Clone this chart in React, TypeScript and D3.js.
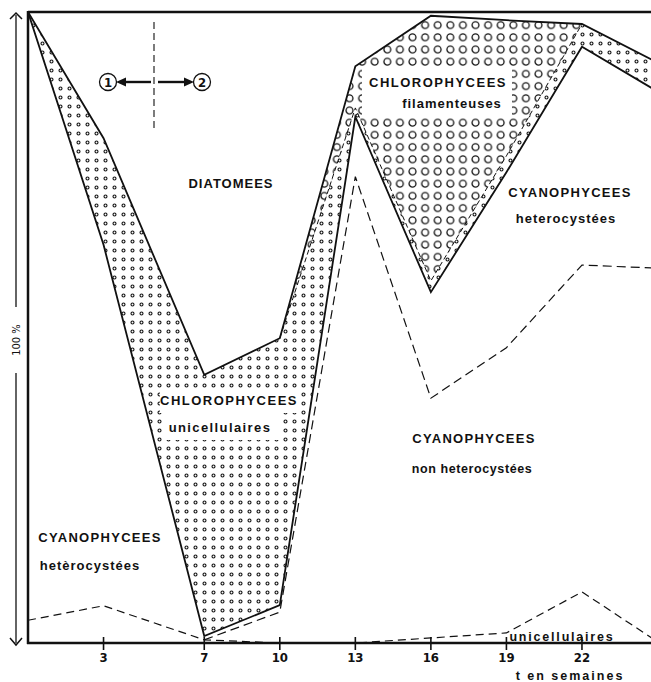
import React from "react";
import * as d3 from "d3";

// weeks sampled (last value = right border of the figure)
const weeks = [0, 3, 7, 10, 13, 16, 19, 22, 25];
const tickWeeks = [3, 7, 10, 13, 16, 19, 22];
// percentages of each group (stacked from bottom to top)
const cyanoUni = [3.6, 5.9, 0.5, 0, 0, 0.8, 1.6, 8.1, 0.2];
const cyanoNonHet = [0, 0, 0, 4.9, 73.9, 38.0, 45.2, 51.8, 59.2];
const cyanoHet = [96.4, 57.2, 0.6, 1.1, 9.5, 16.8, 27.8, 34.6, 28.0];
const chloroUni = [0, 16.9, 41.4, 42.3, 1.4, 1.8, 2.6, 3.6, 4.6];
const chloroFil = [0, 0, 0, 0, 6.6, 42.0, 21.5, 0, 0];
const diatom = [0, 20.0, 57.5, 51.7, 8.6, 0.6, 1.3, 1.9, 8.0];
const layerKeys = ["cyanoUni", "cyanoNonHet", "cyanoHet", "chloroUni", "chloroFil", "diatom"];
const layerValues = [cyanoUni, cyanoNonHet, cyanoHet, chloroUni, chloroFil, diatom];

const W = 651;
const H = 682;
const X0 = 28;
const XR = 651;
const YTOP = 12;
const YBOT = 643;

const SANS = "'Liberation Sans', Arial, Helvetica, sans-serif";
const NARROW = "'Liberation Sans Narrow', 'DejaVu Sans Condensed', 'Liberation Sans', sans-serif";

export default function App() {
  const x = d3.scaleLinear().domain([0, 25]).range([X0, X0 + 25 * 25.18]);
  const y = d3.scaleLinear().domain([0, 100]).range([YBOT, YTOP]);

  const table = weeks.map((w, i) => {
    const row: any = { week: w };
    layerKeys.forEach((k, j) => (row[k] = layerValues[j][i]));
    return row;
  });
  const stacked = d3.stack().keys(layerKeys)(table);
  const top = (k: string) => stacked[layerKeys.indexOf(k)];

  const area = d3
    .area<any>()
    .x((d) => x(d.data.week))
    .y0((d) => y(d[0]))
    .y1((d) => y(d[1]));
  const line = d3
    .line<any>()
    .x((d) => x(d.data.week))
    .y((d) => y(d[1]));

  const b1 = top("cyanoUni");
  const b2 = top("cyanoNonHet");
  const b3 = top("cyanoHet");
  const b4 = top("chloroUni");
  const b5 = top("chloroFil");

  const idx = (w: number) => weeks.indexOf(w);

  return (
    <svg
      width={W}
      height={H}
      style={{ position: "absolute", left: 0, top: 0, background: "#fff" }}
    >
      <defs>
        <clipPath id="plot">
          <rect x={X0} y={YTOP} width={XR - X0} height={YBOT - YTOP} />
        </clipPath>
        <pattern id="dots" patternUnits="userSpaceOnUse" width={9} height={9} x={2} y={3}>
          <circle cx={4.5} cy={4.5} r={1.5} fill="#fff" stroke="#111" strokeWidth={1.1} />
        </pattern>
        <pattern id="circles" patternUnits="userSpaceOnUse" width={12.6} height={12.2} x={3} y={19}>
          <circle cx={6.3} cy={6.1} r={3.4} fill="none" stroke="#111" strokeWidth={1.3} />
        </pattern>
      </defs>
      <rect x={0} y={0} width={W} height={H} fill="#fff" />

      <g clipPath="url(#plot)">
        <path d={area(top("chloroUni")) || ""} fill="url(#dots)" />
        <path d={area(top("chloroFil")) || ""} fill="url(#circles)" />

        {/* cleared zones behind labels */}
        <rect x={160} y={389} width={140} height={24} fill="#fff" />
        <rect x={163} y={412} width={120} height={28} fill="#fff" />
        <rect x={362} y={67} width={150} height={50} fill="#fff" />

        {/* boundaries */}
        <path d={line(b1) || ""} fill="none" stroke="#111" strokeWidth={1.2} strokeDasharray="8,5" />
        <path
          d={line(b2.slice(idx(7))) || ""}
          fill="none"
          stroke="#111"
          strokeWidth={1.2}
          strokeDasharray="9,5"
        />
        <path
          d={line(b4.slice(idx(10), idx(22) + 1)) || ""}
          fill="none"
          stroke="#111"
          strokeWidth={1}
          strokeDasharray="5,3"
        />
        <path d={line(b3) || ""} fill="none" stroke="#111" strokeWidth={1.8} strokeLinejoin="miter" />
        <path d={line(b5) || ""} fill="none" stroke="#111" strokeWidth={1.8} strokeLinejoin="miter" />
      </g>

      {/* frame */}
      <line x1={X0} x2={XR} y1={YTOP} y2={YTOP} stroke="#111" strokeWidth={2.5} />
      <line x1={X0} x2={X0} y1={YTOP - 1} y2={YBOT + 1} stroke="#111" strokeWidth={2.5} />
      <line x1={X0 - 1} x2={XR} y1={YBOT} y2={YBOT} stroke="#111" strokeWidth={2.5} />

      {/* ticks */}
      {tickWeeks.map((t) => (
        <g key={t}>
          <line x1={x(t)} x2={x(t)} y1={637} y2={650} stroke="#111" strokeWidth={1.6} />
          <text
            x={x(t)}
            y={662}
            textAnchor="middle"
            fontFamily={NARROW}
            fontStretch="condensed"
            fontWeight="bold"
            fontSize={13}
            fill="#111"
          >
            {t}
          </text>
        </g>
      ))}

      {/* y axis 100% arrow */}
      <line x1={16} x2={16} y1={15} y2={307} stroke="#111" strokeWidth={1.3} />
      <line x1={16} x2={16} y1={373} y2={643} stroke="#111" strokeWidth={1.3} />
      <path d="M10,19 L16,13 L22,19" fill="none" stroke="#111" strokeWidth={1.5} />
      <path d="M10,638 L16,645 L22,638" fill="none" stroke="#111" strokeWidth={1.5} />
      <text
        transform="translate(20,340) rotate(-90)"
        textAnchor="middle"
        fontFamily={NARROW}
        fontSize={11}
        fill="#111"
      >
        100 %
      </text>

      {/* period marker 1 | 2 */}
      <line x1={154} x2={154} y1={22} y2={132} stroke="#111" strokeWidth={1.1} strokeDasharray="7,4" />
      <line x1={151} x2={124} y1={82} y2={82} stroke="#111" strokeWidth={2.4} />
      <path d="M116,82 L126,77.5 L126,86.5 Z" fill="#111" />
      <line x1={158} x2={186} y1={82} y2={82} stroke="#111" strokeWidth={2.4} />
      <path d="M194,82 L184,77.5 L184,86.5 Z" fill="#111" />
      <circle cx={108} cy={82} r={8.5} fill="#fff" stroke="#111" strokeWidth={1.3} />
      <circle cx={202} cy={82} r={8.5} fill="#fff" stroke="#111" strokeWidth={1.3} />
      <text x={108} y={87} textAnchor="middle" fontFamily={NARROW} fontWeight="bold" fontSize={13} fill="#111">1</text>
      <text x={202} y={87} textAnchor="middle" fontFamily={NARROW} fontWeight="bold" fontSize={13} fill="#111">2</text>

      {/* labels */}
      <g fontFamily={SANS} fontWeight="bold" fill="#111" textAnchor="middle">
        <text x={231} y={188} fontSize={13} letterSpacing={1}>DIATOMEES</text>
        <text x={229} y={405} fontSize={13} letterSpacing={1.5}>CHLOROPHYCEES</text>
        <text x={220} y={432} fontSize={13} letterSpacing={1.4}>unicellulaires</text>
        <text x={438} y={87} fontSize={13} letterSpacing={1.5}>CHLOROPHYCEES</text>
        <text x={452} y={108} fontSize={13} letterSpacing={1}>filamenteuses</text>
        <text x={570} y={197} fontSize={13} letterSpacing={1.3}>CYANOPHYCEES</text>
        <text x={566} y={223} fontSize={13} letterSpacing={1}>heterocystées</text>
        <text x={474} y={443} fontSize={13} letterSpacing={1.3}>CYANOPHYCEES</text>
        <text x={472} y={473} fontSize={12.5} letterSpacing={0.6}>non heterocystées</text>
        <text x={100} y={542} fontSize={13} letterSpacing={1.3}>CYANOPHYCEES</text>
        <text x={90} y={570} fontSize={13} letterSpacing={1}>hetèrocystées</text>
      </g>
      <text
        x={562}
        y={641}
        textAnchor="middle"
        fontFamily={SANS}
        fontWeight="bold"
        fontSize={12.5}
        letterSpacing={1.8}
        fill="#111"
      >
        unicellulaires
      </text>
      <text
        x={570}
        y={680}
        textAnchor="middle"
        fontFamily={SANS}
        fontWeight="bold"
        fontSize={12.5}
        letterSpacing={2}
        fill="#111"
      >
        t en semaines
      </text>
    </svg>
  );
}
